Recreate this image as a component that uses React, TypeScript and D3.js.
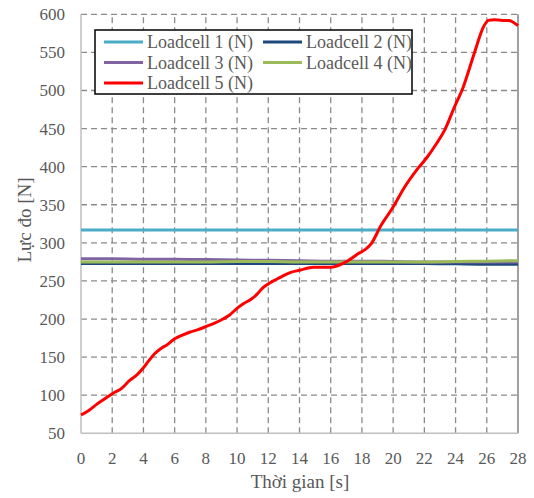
import React from "react";
import * as d3 from "d3";

const seriesNames = ["Loadcell 1 (N)", "Loadcell 2 (N)", "Loadcell 3 (N)", "Loadcell 4 (N)", "Loadcell 5 (N)"];
const seriesColors = ["#4BACC6", "#1F497D", "#8064A2", "#9BBB59", "#FF0000"];

const flatTime = [0, 2, 4, 6, 8, 10, 12, 14, 16, 18, 20, 22, 24, 26, 28];
const lc1 = [317, 317, 317, 317, 317, 317, 317, 317, 317, 317, 317, 317, 317, 317, 317];
const lc2 = [273, 273, 273, 273, 273, 273, 273, 273, 273, 273, 273, 273, 272.5, 272, 272];
const lc3 = [279, 279, 278.5, 278.5, 278, 277.5, 277, 276.5, 276, 276, 275.5, 275, 275, 275, 275];
const lc4 = [275, 275, 275, 275, 275, 275.5, 275.5, 275, 275, 275, 275, 275, 275.5, 276, 276.5];

const lc5Time = [0, 0.5, 1, 1.5, 2, 2.6, 3.1, 3.6, 4, 4.3, 4.7, 5.1, 5.5, 6, 6.5, 7, 7.5, 8, 8.6, 9.1, 9.5, 10, 10.4, 10.9, 11.3, 11.6, 12, 12.8, 13.4, 14, 14.9, 16, 16.8, 17.3, 17.7, 18.2, 18.6, 19.2, 20, 20.7, 21.6, 22.2, 22.8, 23.3, 23.9, 24.5, 25.2, 25.8, 26.1, 26.5, 27, 27.4, 28];
const lc5 = [74, 80, 88, 95, 102, 109, 119, 127, 136, 144, 154, 161, 166, 174, 179, 183, 186, 190, 195, 200, 205, 214, 220, 226, 233, 240, 246, 255, 261, 264, 268, 268, 273, 279, 285, 291, 299, 322, 347, 372, 398, 413, 431, 448, 477, 505, 549, 584, 592, 593, 592, 592, 585];

const xTicks = d3.range(0, 29, 2);
const yTicks = d3.range(50, 601, 50);

export default function App() {
  const W = 534, H = 498;
  const x = d3.scaleLinear().domain([0, 28]).range([81, 518]);
  const y = d3.scaleLinear().domain([50, 600]).range([433.3, 14.3]);
  const line = d3.line<[number, number]>().x(d => x(d[0])).y(d => y(d[1])).curve(d3.curveMonotoneX);
  const flatSeries = [lc1, lc2, lc3, lc4];
  const font = "'Liberation Serif', 'Times New Roman', serif";
  const txt = "#595959";
  const legendCols = [104, 263];
  const legendRows = [42, 62.5, 83];
  return (
    <svg width={W} height={H} style={{ position: "absolute", left: 0, top: 0, background: "#fff", fontFamily: font }}>
      <rect x={0} y={0} width={W} height={H} fill="#fff" />
      {yTicks.filter(v => v !== 50).map(v => (
        <line key={"gy" + v} x1={x(0)} x2={x(28)} y1={y(v)} y2={y(v)} stroke="#8a8a8a" strokeWidth={1.3} strokeDasharray="6,4" />
      ))}
      {xTicks.filter(v => v !== 0 && v !== 28).map(v => (
        <line key={"gx" + v} x1={x(v)} x2={x(v)} y1={y(50)} y2={y(600)} stroke="#8a8a8a" strokeWidth={1.3} strokeDasharray="6,4" />
      ))}
      <line x1={x(28)} x2={x(28)} y1={y(50)} y2={y(600)} stroke="#808080" strokeWidth={1.5} />
      <line x1={x(0)} x2={x(0)} y1={y(50)} y2={y(600)} stroke="#BFBFBF" strokeWidth={1.5} />
      <line x1={x(0)} x2={x(28)} y1={y(50)} y2={y(50)} stroke="#BFBFBF" strokeWidth={1.5} />
      {flatSeries.map((s, i) => (
        <path key={"s" + i} d={line(flatTime.map((t, j) => [t, s[j]]) as [number, number][]) || ""} fill="none" stroke={seriesColors[i]} strokeWidth={3} />
      ))}
      <path d={line(lc5Time.map((t, j) => [t, lc5[j]]) as [number, number][]) || ""} fill="none" stroke={seriesColors[4]} strokeWidth={3} strokeLinejoin="round" />
      {yTicks.map(v => (
        <text key={"ty" + v} x={65} y={y(v)} dy="0.35em" textAnchor="end" fontSize={17} fill={txt}>{v}</text>
      ))}
      {xTicks.map(v => (
        <text key={"tx" + v} x={x(v)} y={464} textAnchor="middle" fontSize={17} fill={txt}>{v}</text>
      ))}
      <text x={300} y={488} textAnchor="middle" fontSize={19} fill={txt}>Thời gian [s]</text>
      <text transform={`translate(24,220) rotate(-90)`} textAnchor="middle" dy="0.35em" fontSize={19} fill={txt}>Lực đo [N]</text>
      <rect x={95} y={30} width={317} height={64} fill="#fff" stroke="#000" strokeWidth={1.5} />
      {seriesNames.map((n, i) => {
        const cx = legendCols[i % 2];
        const cy = legendRows[Math.floor(i / 2)];
        return (
          <g key={"l" + i}>
            <line x1={cx} x2={cx + 39} y1={cy} y2={cy} stroke={seriesColors[i]} strokeWidth={3} />
            <text x={cx + 43} y={cy} dy="0.35em" fontSize={18} fill={txt}>{n}</text>
          </g>
        );
      })}
    </svg>
  );
}
